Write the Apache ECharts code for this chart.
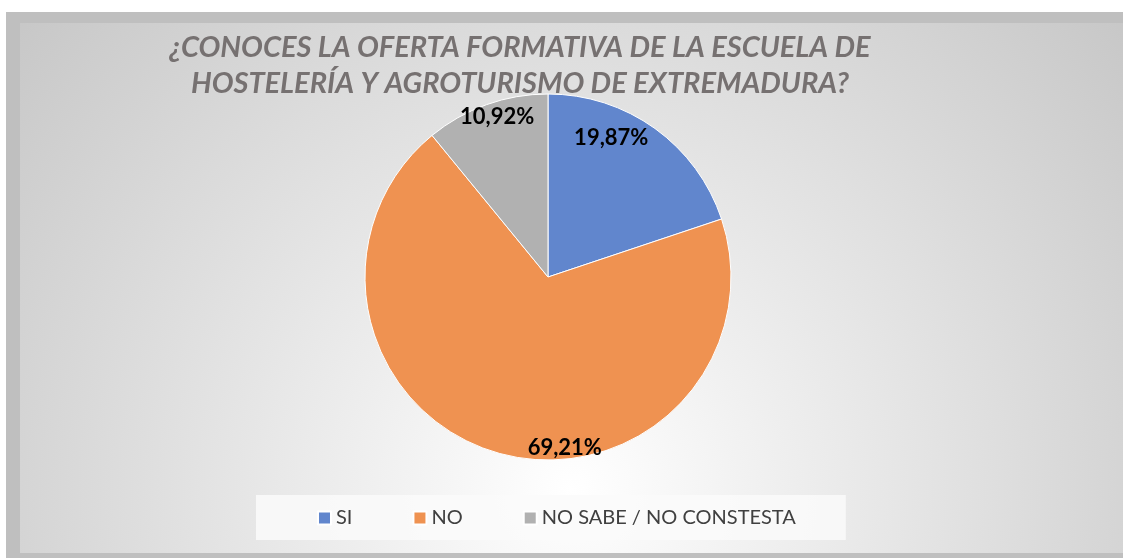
<!DOCTYPE html>
<html lang="es">
<head>
    <meta charset="UTF-8">
    <title>echarts</title>
    <style>
        body { margin: 0; background: #ffffff; overflow: hidden; }
        #frame { position: absolute; left: 6px; top: 12px; width: 1117px; height: 546px; background: #bfbfbf; }
        #main { position: absolute; left: 14px; top: 11px; width: 1103px; height: 530px; }
    </style>
</head>
<body>
<div id="frame"><div id="main"></div></div>
<script src="https://cdn.jsdelivr.net/npm/echarts@6/dist/echarts.min.js"></script>
<script>
    //datos
    let categories = ['SI', 'NO', 'NO SABE / NO CONSTESTA'];
    let percents = [19.87, 69.21, 10.92];
    let colors = ['#6186cd', '#ef9251', '#b1b1b1'];
    //desplazamiento de etiquetas (estilo)
    let labelShift = [[8, -62], [43, 80], [-19, -71]];

    let seriesData = [];
    for (let i = 0; i < categories.length; i++) {
        seriesData.push({name: categories[i], value: percents[i], itemStyle: {color: colors[i]}});
    }

    let echart = echarts.init(document.getElementById('main'));
    let option = {
        //fondo degradado radial
        backgroundColor: new echarts.graphic.RadialGradient(0.5, 0.88, 1.5, [
            {offset: 0, color: '#ffffff'},
            {offset: 1, color: '#c2c2c2'}
        ]),
        title: {
            text: '¿CONOCES LA OFERTA FORMATIVA DE LA ESCUELA DE\nHOSTELERÍA Y AGROTURISMO DE EXTREMADURA?',
            left: 495,
            top: 2,
            textAlign: 'center',
            textStyle: {
                fontFamily: 'Lato',
                fontStyle: 'italic',
                fontWeight: 'bold',
                fontSize: 29,
                lineHeight: 36,
                color: '#767171'
            }
        },
        legend: {
            data: categories,
            left: 236,
            top: 472,
            padding: [13, 50, 12, 61],
            backgroundColor: 'rgba(250,250,250,0.85)',
            itemWidth: 13,
            itemHeight: 13,
            itemGap: 60,
            icon: 'rect',
            textStyle: {
                fontFamily: 'Lato',
                fontSize: 20,
                color: '#404040'
            }
        },
        series: [
            {
                type: 'pie',
                center: [528, 254],
                radius: 183,
                startAngle: 90,
                clockwise: true,
                itemStyle: {borderColor: '#ffffff', borderWidth: 1},
                label: {
                    position: 'inside',
                    fontFamily: 'Lato',
                    fontWeight: 'bold',
                    fontSize: 22,
                    color: '#000000',
                    formatter: function (p) {
                        return p.value.toFixed(2).replace('.', ',') + '%';
                    }
                },
                labelLayout: function (p) {
                    return {dx: labelShift[p.dataIndex][0], dy: labelShift[p.dataIndex][1]};
                },
                emphasis: {disabled: true},
                data: seriesData
            }
        ]
    };
    echart.setOption(option);
</script>
</body>
</html>
